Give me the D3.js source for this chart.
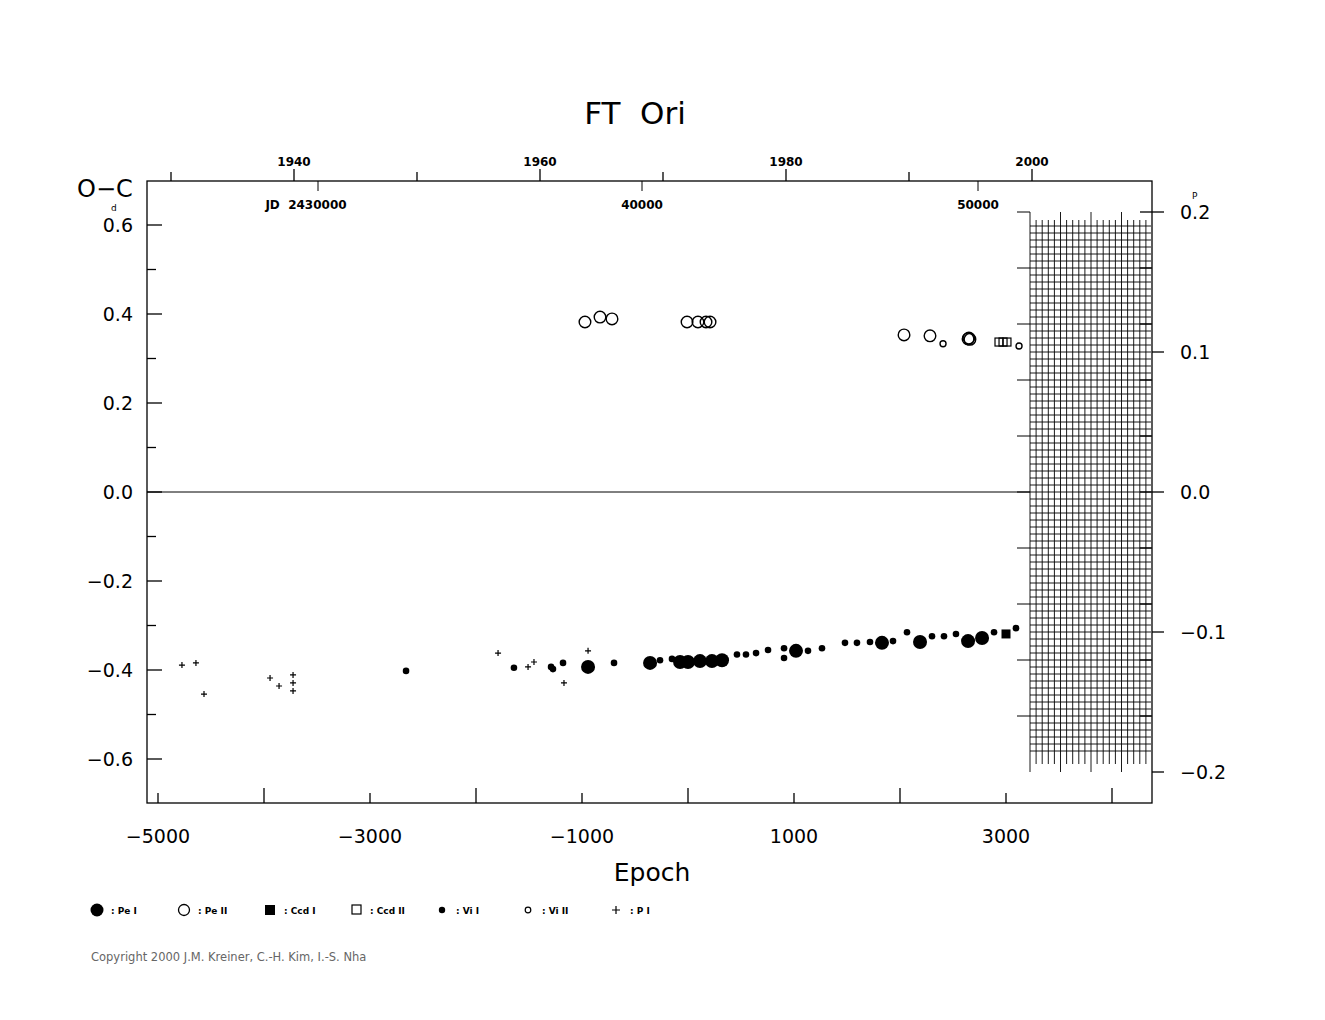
<!DOCTYPE html><html><head><script src="https://cdn.jsdelivr.net/npm/d3@7"></script>
<style>body{margin:0;background:#fff}text{font-family:"DejaVu Sans",sans-serif;white-space:pre}</style></head><body>
<svg id="c" width="1325" height="1020"></svg>
<script>
const peI=[[-943,-0.393],[-358,-0.384],[-75,-0.382],[0,-0.382],[113,-0.380],[226,-0.380],[321,-0.378],[1019,-0.357],[1830,-0.339],[2189,-0.337],[2642,-0.335],[2774,-0.328]];
const peII=[[-972,0.382],[-830,0.393],[-717,0.389],[-9,0.382],[94,0.382],[170,0.382],[208,0.382],[2038,0.353],[2283,0.351],[2642,0.344],[2650,0.346],[2660,0.343]];
const codI=[[3000,-0.319]];
const codII=[[2934,0.337],[2972,0.337],[3009,0.337]];
const viI=[[-2660,-0.402],[-1642,-0.395],[-1292,-0.393],[-1274,-0.398],[-1179,-0.384],[-698,-0.384],[-264,-0.378],[-151,-0.375],[462,-0.365],[547,-0.365],[642,-0.362],[755,-0.355],[906,-0.351],[906,-0.373],[1132,-0.357],[1264,-0.351],[1481,-0.339],[1594,-0.339],[1717,-0.337],[1934,-0.335],[2066,-0.315],[2302,-0.324],[2415,-0.324],[2528,-0.319],[2887,-0.315],[3094,-0.306]];
const viII=[[2406,0.333],[3123,0.328]];
const pI=[[-4774,-0.389],[-4642,-0.384],[-4566,-0.454],[-3943,-0.418],[-3858,-0.436],[-3726,-0.411],[-3726,-0.429],[-3726,-0.447],[-1792,-0.362],[-1509,-0.393],[-1453,-0.382],[-1170,-0.429],[-943,-0.357]];
const epochTicks=[-5000,-3000,-1000,1000,3000];
const ocTicks=[-0.6,-0.4,-0.2,0,0.2,0.4,0.6];
const phaseTicks=[-0.2,-0.1,0,0.1,0.2];
const yearTicks=[1940,1960,1980,2000];
const jdTicks=[30000,40000,50000];

const svg=d3.select("#c");
const L=147,R=1152,T=181,B=803;
const x=d3.scaleLinear().domain([1000,3000]).range([794,1006]);
const y=d3.scaleLinear().domain([0,0.4]).range([492,314]);
const yp=d3.scaleLinear().domain([0,0.1]).range([492,352]);
const yr=d3.scaleLinear().domain([1940,1960]).range([294,540]);
const jd=d3.scaleLinear().domain([40000,50000]).range([642,978]);
const g=svg.append("g").attr("stroke","#000").attr("fill","none");
const gx0=1030,gx1=1151;
for(let i=0;i*6.1<=gx1-gx0;i++){const xx=gx0+i*6.1;g.append("line").attr("x1",xx).attr("x2",xx).attr("y1",i%5==0?212:220).attr("y2",i%5==0?772:764).attr("stroke-width",0.9);}
for(let v=0.19;v>=-0.19;v-=0.005){const yy=yp(v);g.append("line").attr("x1",gx0).attr("x2",gx1).attr("y1",yy).attr("y2",yy).attr("stroke-width",0.9);}
g.append("rect").attr("x",L).attr("y",T).attr("width",R-L).attr("height",B-T).attr("stroke-width",1.3);
g.append("line").attr("x1",L).attr("x2",gx0).attr("y1",y(0)).attr("y2",y(0));
d3.range(-6,7).forEach(i=>{const yy=y(i/10);g.append("line").attr("x1",L).attr("x2",L+(i%2==0?15:9)).attr("y1",yy).attr("y2",yy).attr("stroke-width",1.3);});
phaseTicks.forEach(v=>g.append("line").attr("x1",R).attr("x2",R+12).attr("y1",yp(v)).attr("y2",yp(v)).attr("stroke-width",1.3));
d3.range(-4,6).forEach(i=>{const yy=yp(i*0.04);g.append("line").attr("x1",1017).attr("x2",gx0).attr("y1",yy).attr("y2",yy);g.append("line").attr("x1",R-12).attr("x2",R).attr("y1",yy).attr("y2",yy).attr("stroke-width",1.3);});
d3.range(-5000,5000,1000).forEach(e=>{if(x(e)>L&&x(e)<R)g.append("line").attr("x1",x(e)).attr("x2",x(e)).attr("y1",B).attr("y2",B-(e%2000?10:15)).attr("stroke-width",1.3);});
d3.range(1930,2011,10).forEach(t=>{if(yr(t)<R)g.append("line").attr("x1",yr(t)).attr("x2",yr(t)).attr("y1",T).attr("y2",T-(t%20?9:12)).attr("stroke-width",1.3);});
jdTicks.forEach(j=>g.append("line").attr("x1",jd(j)+(j==30000?12:0)).attr("x2",jd(j)+(j==30000?12:0)).attr("y1",T).attr("y2",T+10));
const t=svg.append("g").attr("fill","#000");
t.append("text").attr("x",635).attr("y",124).attr("text-anchor","middle").attr("font-size",31).text("FT  Ori");
t.append("text").attr("x",652).attr("y",881).attr("text-anchor","middle").attr("font-size",25).text("Epoch");
t.append("text").attr("x",105).attr("y",197).attr("text-anchor","middle").attr("font-size",24).text("O−C");
epochTicks.forEach(e=>t.append("text").attr("x",x(e)).attr("y",843).attr("text-anchor","middle").attr("font-size",19).text(e<0?"−"+(-e):e));
ocTicks.forEach(v=>t.append("text").attr("x",133).attr("y",y(v)+7).attr("text-anchor","end").attr("font-size",19).text((v<0?"−":"")+Math.abs(v).toFixed(1)));
t.append("text").attr("x",111).attr("y",211).attr("font-size",9).text("d");
phaseTicks.forEach(v=>t.append("text").attr("x",1180).attr("y",yp(v)+7).attr("font-size",19).text((v<0?"−":"")+Math.abs(v).toFixed(1)));
t.append("text").attr("x",1192).attr("y",199).attr("font-size",9).text("P");
yearTicks.forEach(v=>t.append("text").attr("x",yr(v)).attr("y",166).attr("text-anchor","middle").attr("font-size",12).attr("font-weight","bold").text(v));
jdTicks.forEach(j=>t.append("text").attr("x",jd(j)).attr("y",209).attr("text-anchor","middle").attr("font-size",12).attr("font-weight","bold").text(j==30000?"JD  2430000":j));
t.append("text").attr("x",91).attr("y",961).attr("font-size",11.5).attr("fill","#666").text("Copyright 2000 J.M. Kreiner, C.-H. Kim, I.-S. Nha");
const m=svg.append("g");
const circ=(d,r,f)=>m.selectAll(null).data(d).join("circle").attr("cx",p=>x(p[0])).attr("cy",p=>y(p[1])).attr("r",r).attr("fill",f?"#000":"none").attr("stroke","#000").attr("stroke-width",f?0:1.4);
circ(peI,7,true);circ(peII,5.8,false);circ(viI,3.3,true);circ(viII,3,false);
m.selectAll(null).data(codI).join("rect").attr("x",p=>x(p[0])-4.5).attr("y",p=>y(p[1])-4.5).attr("width",9).attr("height",9).attr("fill","#000");
m.selectAll(null).data(codII).join("rect").attr("x",p=>x(p[0])-4).attr("y",p=>y(p[1])-4).attr("width",8).attr("height",8).attr("fill","none").attr("stroke","#000").attr("stroke-width",1.2);
m.selectAll(null).data(pI).join("path").attr("d","M-3,0h6M0,-3v6").attr("transform",p=>`translate(${x(p[0])},${y(p[1])})`).attr("stroke","#000").attr("stroke-width",1.2);
const lg=svg.append("g");const ly=910;
const items=[["Pe I",97],["Pe II",184],["Ccd I",270],["Ccd II",356],["Vi I",442],["Vi II",528],["P I",616]];
lg.append("circle").attr("cx",97).attr("cy",ly).attr("r",6.5);
lg.append("circle").attr("cx",184).attr("cy",ly).attr("r",5.5).attr("fill","none").attr("stroke","#000").attr("stroke-width",1.3);
lg.append("rect").attr("x",265).attr("y",ly-5).attr("width",10).attr("height",10);
lg.append("rect").attr("x",352).attr("y",ly-5).attr("width",9).attr("height",9).attr("fill","none").attr("stroke","#000").attr("stroke-width",1.2);
lg.append("circle").attr("cx",442).attr("cy",ly).attr("r",3.2);
lg.append("circle").attr("cx",528).attr("cy",ly).attr("r",2.8).attr("fill","none").attr("stroke","#000").attr("stroke-width",1.2);
lg.append("path").attr("d",`M612,${ly}h8M616,${ly-4}v8`).attr("stroke","#000").attr("stroke-width",1.2);
items.forEach(([s,xx])=>lg.append("text").attr("x",xx+14).attr("y",ly+4).attr("font-size",9).attr("font-weight","bold").text(": "+s));
</script></body></html>
